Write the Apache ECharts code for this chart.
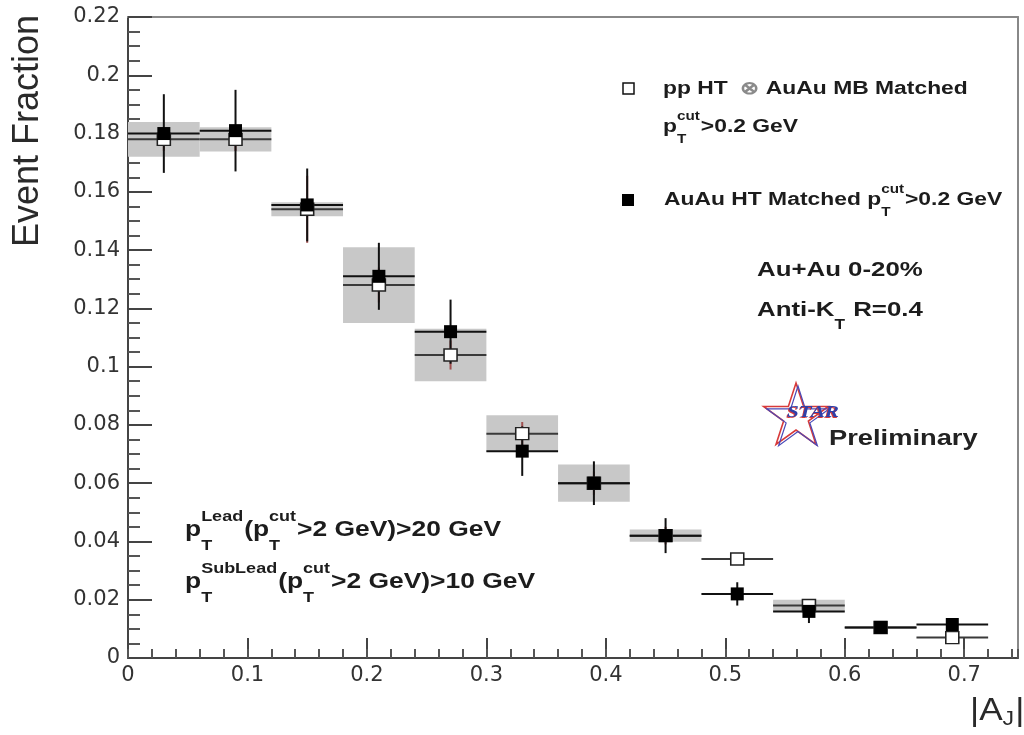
<!DOCTYPE html>
<html>
<head>
<meta charset="utf-8">
<title>Dijet momentum imbalance |A_J| — Au+Au 0-20%</title>
<script src="https://cdn.jsdelivr.net/npm/echarts@6/dist/echarts.min.js"></script>
<style>
  html, body { margin: 0; padding: 0; background: #fff; }
  #chart { width: 1024px; height: 735px; }
</style>
</head>
<body>
<div id="chart"></div>
<script>
// |A_J| bins: centres and half width
const ajBinCenters = [0.03, 0.09, 0.15, 0.21, 0.27, 0.33, 0.39, 0.45, 0.51, 0.57, 0.63, 0.69];
const ajBinHalfWidth = 0.03;

// pp HT (x) AuAu MB, matched, pT(cut) > 0.2 GeV  (open squares)
const ppEmbedFraction = [0.178, 0.178, 0.154, 0.128, 0.104, 0.077, 0.060, 0.042, 0.034, 0.018, 0.0105, 0.007];
const ppEmbedStat     = [0.004, 0.004, 0.0115, 0.006, 0.005, 0.004, 0.004, 0.003, 0.0012, 0.0015, 0.001, 0.0015];
const ppEmbedSys      = [0.006, 0.0042, 0.0024, 0.013, 0.009, 0.0063, 0.0064, 0.0021, 0, 0.002, 0, 0];

// AuAu HT, matched, pT(cut) > 0.2 GeV  (filled squares)
const auauFraction = [0.180, 0.181, 0.1555, 0.131, 0.112, 0.071, 0.060, 0.042, 0.022, 0.016, 0.0105, 0.0115];
const auauStat     = [0.0135, 0.014, 0.0125, 0.0115, 0.011, 0.0085, 0.0075, 0.006, 0.004, 0.004, 0.002, 0.002];

// axis ranges
const xRange = [0, 0.745];
const yRange = [0, 0.22];

const SANS = '"Liberation Sans", Arial, Helvetica, sans-serif';
const TEXT_COLOR = '#1c1c1c';

const measureCtx = document.createElement('canvas').getContext('2d');
function textWidth(txt, size, weight) {
  measureCtx.font = weight + ' ' + size + 'px ' + SANS;
  return measureCtx.measureText(txt).width;
}

// Lays out a line of text with stacked sub/superscripts (e.g. p_T^cut).
function mathText(x, y, parts, size, weight, color, sx, subDy) {
  sx = sx || 1.2;
  subDy = subDy == null ? size * 0.72 : subDy;
  const els = [];
  let cx = x;
  const put = (txt, px, py, fs, fill) => els.push({
    type: 'text', x: px, y: py, scaleX: sx, silent: true,
    style: { text: txt, fontSize: fs, fontWeight: weight, fontFamily: SANS,
             fill: fill || color, align: 'left', verticalAlign: 'middle' }
  });
  parts.forEach(p => {
    if (typeof p === 'string') {
      put(p, cx, y, size);
      cx += textWidth(p, size, weight) * sx;
    } else if (p.text) {
      put(p.text, cx, y, size, p.color);
      cx += textWidth(p.text, size, weight) * sx;
    } else {
      const fs = Math.round(size * 0.66);
      let w = 0;
      if (p.sup) { put(p.sup, cx, y - size * 0.6, fs); w = Math.max(w, textWidth(p.sup, fs, weight)); }
      if (p.sub) { put(p.sub, cx, y + subDy, fs); w = Math.max(w, textWidth(p.sub, fs, weight)); }
      cx += w * sx + 1;
    }
  });
  return els;
}

function starPoints(cx, cy, R, r) {
  const pts = [];
  for (let i = 0; i < 10; i++) {
    const a = -Math.PI / 2 + i * Math.PI / 5;
    const rad = i % 2 === 0 ? R : r;
    pts.push([cx + rad * Math.cos(a), cy + rad * Math.sin(a)]);
  }
  return pts;
}

// horizontal bin-width bar plus vertical statistical error bar
function binBars(hColor, vColor, hWidth, vWidth) {
  return function (params, api) {
    const x = api.value(0), y = api.value(1), e = api.value(2);
    const pl = api.coord([x - ajBinHalfWidth, y]);
    const pr = api.coord([x + ajBinHalfWidth, y]);
    const pt = api.coord([x, y + e]);
    const pb = api.coord([x, y - e]);
    return {
      type: 'group',
      children: [
        { type: 'line', shape: { x1: pl[0], y1: pl[1], x2: pr[0], y2: pr[1] },
          style: { stroke: hColor, lineWidth: hWidth } },
        { type: 'line', shape: { x1: pt[0], y1: pt[1], x2: pb[0], y2: pb[1] },
          style: { stroke: vColor, lineWidth: vWidth } }
      ]
    };
  };
}

// systematic uncertainty boxes
function sysBox(params, api) {
  const x = api.value(0), y = api.value(1), s = api.value(2);
  if (!(s > 0)) return null;
  const p0 = api.coord([x - ajBinHalfWidth, y + s]);
  const p1 = api.coord([x + ajBinHalfWidth, y - s]);
  return { type: 'rect', shape: { x: p0[0], y: p0[1], width: p1[0] - p0[0], height: p1[1] - p0[1] },
           style: { fill: '#c8c8c8' } };
}

const ppRows   = ajBinCenters.map((x, i) => [x, ppEmbedFraction[i], ppEmbedStat[i]]);
const ppSys    = ajBinCenters.map((x, i) => [x, ppEmbedFraction[i], ppEmbedSys[i]]);
const auauRows = ajBinCenters.map((x, i) => [x, auauFraction[i], auauStat[i]]);

const graphics = [].concat(
  // y title
  [{ type: 'text', x: 28, y: 15, rotation: Math.PI / 2, silent: true,
     style: { text: 'Event Fraction', fontSize: 36, fontFamily: SANS, fill: '#2a2a2a',
              align: 'right', verticalAlign: 'middle' } }],
  // x title |A_J|
  mathText(970, 711, ['|A', { sub: 'J' }, '|'], 32, 'normal', '#2a2a2a', 1.1, 8),
  // legend keys
  [{ type: 'rect', shape: { x: 623, y: 83, width: 11, height: 11 },
     style: { fill: '#fff', stroke: '#111', lineWidth: 1.5 } },
   { type: 'rect', shape: { x: 622, y: 194, width: 12, height: 12 },
     style: { fill: '#000' } }],
  mathText(663, 89, ['pp HT  ', { text: '⊗', color: '#8a8a8a' }, ' AuAu MB Matched'], 18, 'bold', TEXT_COLOR, 1.27),
  mathText(663, 127, ['p', { sup: 'cut', sub: 'T' }, '>0.2 GeV'], 18, 'bold', TEXT_COLOR, 1.27),
  mathText(664, 200, ['AuAu HT Matched p', { sup: 'cut', sub: 'T' }, '>0.2 GeV'], 18, 'bold', TEXT_COLOR, 1.27),
  // centrality / algorithm
  mathText(757, 270, ['Au+Au 0-20%'], 21, 'bold', TEXT_COLOR, 1.23),
  mathText(757, 310, ['Anti-K', { sub: 'T' }, ' R=0.4'], 21, 'bold', TEXT_COLOR, 1.23),
  // jet selection
  mathText(185, 530, ['p', { sup: 'Lead', sub: 'T' }, '(p', { sup: 'cut', sub: 'T' }, '>2 GeV)>20 GeV'], 22, 'bold', TEXT_COLOR, 1.2),
  mathText(185, 582, ['p', { sup: 'SubLead', sub: 'T' }, '(p', { sup: 'cut', sub: 'T' }, '>2 GeV)>10 GeV'], 22, 'bold', TEXT_COLOR, 1.2),
  // STAR logo
  [{ type: 'polygon', shape: { points: starPoints(796, 417, 34, 13) }, silent: true,
     style: { fill: 'none', stroke: '#d83a3a', lineWidth: 1.6 } },
   { type: 'polygon', shape: { points: starPoints(798, 419, 33, 12.5) }, silent: true,
     style: { fill: 'none', stroke: '#4a4ab8', lineWidth: 1.2 } },
   { type: 'text', x: 786, y: 414, scaleX: 1.25, silent: true,
     style: { text: 'STAR', fontSize: 17, fontWeight: 'bold', fontStyle: 'italic',
              fontFamily: '"Liberation Serif", "Times New Roman", serif', fill: '#d83a3a',
              align: 'left', verticalAlign: 'middle' } },
   { type: 'text', x: 787, y: 413, scaleX: 1.25, silent: true,
     style: { text: 'STAR', fontSize: 17, fontWeight: 'bold', fontStyle: 'italic',
              fontFamily: '"Liberation Serif", "Times New Roman", serif', fill: '#3040a8',
              align: 'left', verticalAlign: 'middle' } }],
  mathText(829, 439, ['Preliminary'], 22, 'bold', '#222', 1.24)
);

const option = {
  animation: false,
  backgroundColor: '#fff',
  grid: { left: 128, right: 6, top: 17, bottom: 77, containLabel: false },
  xAxis: [
    { type: 'value', min: xRange[0], max: xRange[1], interval: 0.1, position: 'bottom',
      axisLine: { show: true, onZero: false, lineStyle: { color: '#444', width: 2 } },
      axisTick: { show: true, inside: true, length: 20, lineStyle: { color: '#444', width: 2 } },
      axisLabel: { fontFamily: '"DejaVu Sans", sans-serif', fontSize: 21, color: '#333', margin: 7,
                   showMaxLabel: false },
      splitLine: { show: false } },
    { type: 'value', min: xRange[0], max: xRange[1], interval: 0.02, position: 'bottom',
      axisLine: { show: false, onZero: false },
      axisTick: { show: true, inside: true, length: 9, lineStyle: { color: '#555', width: 2 } },
      axisLabel: { show: false }, splitLine: { show: false } },
    { type: 'value', min: xRange[0], max: xRange[1], position: 'top',
      axisLine: { show: true, onZero: false, lineStyle: { color: '#888', width: 2 } },
      axisTick: { show: false }, axisLabel: { show: false }, splitLine: { show: false } }
  ],
  yAxis: [
    { type: 'value', min: yRange[0], max: yRange[1], interval: 0.02,
      axisLine: { show: true, onZero: false, lineStyle: { color: '#444', width: 2 } },
      axisTick: { show: true, inside: true, length: 24, lineStyle: { color: '#444', width: 2 } },
      minorTick: { show: true, splitNumber: 4, length: 12, lineStyle: { color: '#555', width: 2 } },
      axisLabel: { fontFamily: '"DejaVu Sans", sans-serif', fontSize: 21, color: '#333', margin: 8 },
      splitLine: { show: false }, minorSplitLine: { show: false } },
    { type: 'value', min: yRange[0], max: yRange[1], position: 'right',
      axisLine: { show: true, onZero: false, lineStyle: { color: '#888', width: 2 } },
      axisTick: { show: false }, axisLabel: { show: false }, splitLine: { show: false } }
  ],
  series: [
    { name: 'sys', type: 'custom', renderItem: sysBox, data: ppSys,
      encode: { x: 0, y: 1 }, silent: true, z: 1 },
    { name: 'pp bars', type: 'custom', renderItem: binBars('#3a3a3a', '#a05050', 2, 2), data: ppRows,
      encode: { x: 0, y: 1 }, silent: true, z: 2 },
    { name: 'AuAu bars', type: 'custom', renderItem: binBars('#111', '#111', 2, 2), data: auauRows,
      encode: { x: 0, y: 1 }, silent: true, z: 3 },
    { name: 'pp HT ⊗ AuAu MB Matched', type: 'scatter', symbol: 'rect', symbolSize: [13, 12],
      data: ajBinCenters.map((x, i) => [x, ppEmbedFraction[i]]),
      itemStyle: { color: '#fff', borderColor: '#222', borderWidth: 1.5, opacity: 1 }, z: 4 },
    { name: 'AuAu HT Matched', type: 'scatter', symbol: 'rect', symbolSize: 13,
      data: ajBinCenters.map((x, i) => [x, auauFraction[i]]),
      itemStyle: { color: '#000', opacity: 1 }, z: 5 }
  ],
  graphic: { elements: graphics }
};

const chart = echarts.init(document.getElementById('chart'), null, { renderer: 'canvas' });
chart.setOption(option);
</script>
</body>
</html>
